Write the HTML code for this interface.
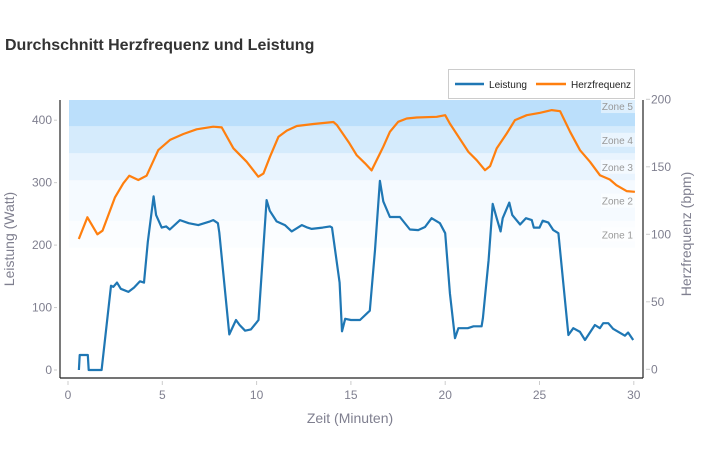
<!DOCTYPE html>
<html><head><meta charset="utf-8"><style>
body{margin:0;background:#fff;}
svg text{font-family:"Liberation Sans",Arial,sans-serif;}
</style></head><body>
<svg id="c" width="704" height="450" xmlns="http://www.w3.org/2000/svg">
<text x="5" y="50" font-size="16" font-weight="bold" fill="#333">Durchschnitt Herzfrequenz und Leistung</text>
<g id="bands"></g>
<g id="grid"></g>
<g id="series"></g>
<line x1="60" y1="100" x2="60" y2="378" stroke="#222" stroke-width="1.2"/>
<line x1="643" y1="100" x2="643" y2="378" stroke="#222" stroke-width="1.2"/>
<line x1="60" y1="378" x2="643" y2="378" stroke="#222" stroke-width="1.2"/>
<text x="14" y="239" font-size="14" fill="#7f7f8f" text-anchor="middle" transform="rotate(-90 14 239)">Leistung (Watt)</text>
<text x="691" y="234" font-size="14" fill="#7f7f8f" text-anchor="middle" transform="rotate(-90 691 234)">Herzfrequenz (bpm)</text>
<text x="350" y="423" font-size="14" fill="#7f7f8f" text-anchor="middle">Zeit (Minuten)</text>
<g>
<rect x="448.5" y="69.5" width="186" height="29" fill="#fff" stroke="#ccc"/>
<line x1="455" y1="84" x2="484" y2="84" stroke="#1f77b4" stroke-width="2.5"/>
<text x="489" y="88" font-size="10.5" fill="#222" textLength="38" lengthAdjust="spacingAndGlyphs">Leistung</text>
<line x1="536" y1="84" x2="566" y2="84" stroke="#ff7f0e" stroke-width="2.5"/>
<text x="571" y="88" font-size="10.5" fill="#222" textLength="60" lengthAdjust="spacingAndGlyphs">Herzfrequenz</text>
</g>
</svg>
<script>
const xTicks=[0,5,10,15,20,25,30];
const wTicks=[0,100,200,300,400];
const hrTicks=[0,50,100,150,200];
const zoneNames=["Zone 1","Zone 2","Zone 3","Zone 4","Zone 5"];
const zoneLow=[90,110,140,160,180];
const zoneHigh=[110,140,160,180,210];
const zoneColors=["#fbfdff","#f5faff","#e9f4fe","#d5ebfc","#bbdffb"];
const powerT=[0.58,0.62,1.05,1.1,1.75,1.78,2.28,2.4,2.6,2.8,3.2,3.5,3.82,4.03,4.23,4.54,4.67,4.97,5.2,5.4,5.94,6.4,6.91,7.53,7.7,7.95,8.02,8.55,8.91,9.1,9.39,9.7,9.97,10.1,10.53,10.7,11.06,11.5,11.86,12.4,12.7,12.92,13.5,13.89,14.0,14.4,14.53,14.7,15.0,15.48,16.0,16.28,16.54,16.72,17.07,17.6,18.13,18.57,18.93,19.28,19.72,20.0,20.25,20.52,20.7,21.2,21.5,21.93,22.0,22.3,22.52,22.73,22.94,23.05,23.4,23.56,23.97,24.28,24.59,24.7,25.0,25.17,25.47,25.73,26.0,26.26,26.53,26.79,27.15,27.41,27.94,28.2,28.38,28.65,28.9,29.53,29.7,29.97];
const powerW=[0,24,24,0,0,0,135,133,140,130,125,132,142,140,205,278,248,228,230,225,240,235,232,238,240,235,220,57,80,72,63,65,75,80,272,255,238,232,222,232,228,226,228,230,228,140,62,82,80,80,95,192,303,270,245,245,225,224,229,243,235,219,123,51,67,67,70,70,83,176,266,243,222,243,268,248,233,243,240,228,228,239,236,224,219,139,56,67,61,48,72,67,75,75,66,55,60,48];
const hrT=[0.57,1.03,1.56,1.83,2.49,2.93,3.25,3.73,4.17,4.79,5.41,6.12,6.82,7.7,8.15,8.77,9.47,10.09,10.36,10.71,11.16,11.6,12.13,13.01,14.07,14.25,14.92,15.3,15.75,16.1,16.72,17.07,17.51,17.96,18.49,19.55,20.0,20.25,21.23,21.67,22.11,22.38,22.73,23.26,23.7,24.32,25.03,25.65,26.09,26.62,27.15,27.68,28.2,28.73,29.08,29.62,30.06];
const hrV=[96.5,112.6,100,102.7,127.4,137.8,143.4,140.2,143.4,162.4,169.9,174.3,177.8,179.7,179.2,163.7,153.8,142.7,145,157.5,172.3,176.8,180.2,181.7,183.2,181,167.4,158.7,152.6,147.3,164.9,175.9,183.3,185.8,186.5,187,188.2,182,161,154.9,147.5,150.5,163.6,174.7,184.6,188.2,190,192,191.2,175.9,162.3,153.7,143.8,140.6,136.4,132,131.5];

const NS="http://www.w3.org/2000/svg";
function X(t){return 68+t*18.86;}
function YW(w){return 370-w*0.6245;}
function YH(b){return 369.3-b*1.35;}
function mk(tag,attrs,parent){const e=document.createElementNS(NS,tag);for(const k in attrs)e.setAttribute(k,attrs[k]);document.getElementById(parent).appendChild(e);return e;}

for(let i=0;i<zoneNames.length;i++){
  const y1=YH(zoneHigh[i]),y2=YH(zoneLow[i]);
  const top=Math.max(y1,100);
  const r=mk('rect',{x:69,y:top,width:566,height:y2-top,fill:zoneColors[i]},'bands');
  
  
  const cy=(y1+y2)/2;
  const bg=mk('rect',{x:601,y:cy-7,width:34,height:14,fill:'#fff','fill-opacity':0.5},'bands');
  
  
  const t=mk('text',{x:633,y:cy+4,'font-size':10,fill:'#999','text-anchor':'end'},'bands');
  t.textContent=zoneNames[i];
  
  
}
xTicks.forEach(v=>{
  const x=X(v);
  const l=mk('line',{x1:x,y1:381,x2:x,y2:385,stroke:'#ccc'},'grid');
  
  
  const t=mk('text',{x:x,y:399,'font-size':12,fill:'#7f7f8f','text-anchor':'middle'},'grid');
  t.textContent=v;
  
  
});
wTicks.forEach(v=>{
  const y=YW(v);
  const l=mk('line',{x1:54,y1:y,x2:57,y2:y,stroke:'#ccc'},'grid');
  
  
  const t=mk('text',{x:52,y:y+4,'font-size':12,fill:'#7f7f8f','text-anchor':'end'},'grid');
  t.textContent=v;
  
  
});
hrTicks.forEach(v=>{
  const y=YH(v);
  const l=mk('line',{x1:646,y1:y,x2:650,y2:y,stroke:'#ccc'},'grid');
  
  
  const t=mk('text',{x:651,y:y+4,'font-size':12,fill:'#7f7f8f'},'grid');
  t.textContent=v;
  
  
});
const pw=mk('path',{d:powerT.map((t,i)=>(i?'L':'M')+X(t).toFixed(1)+','+YW(powerW[i]).toFixed(1)).join(''),fill:'none',stroke:'#1f77b4','stroke-width':2.2,'stroke-linejoin':'round'},'series');


const hr=mk('path',{d:hrT.map((t,i)=>(i?'L':'M')+X(t).toFixed(1)+','+YH(hrV[i]).toFixed(1)).join(''),fill:'none',stroke:'#ff7f0e','stroke-width':2.2,'stroke-linejoin':'round'},'series');


</script>
</body></html>
